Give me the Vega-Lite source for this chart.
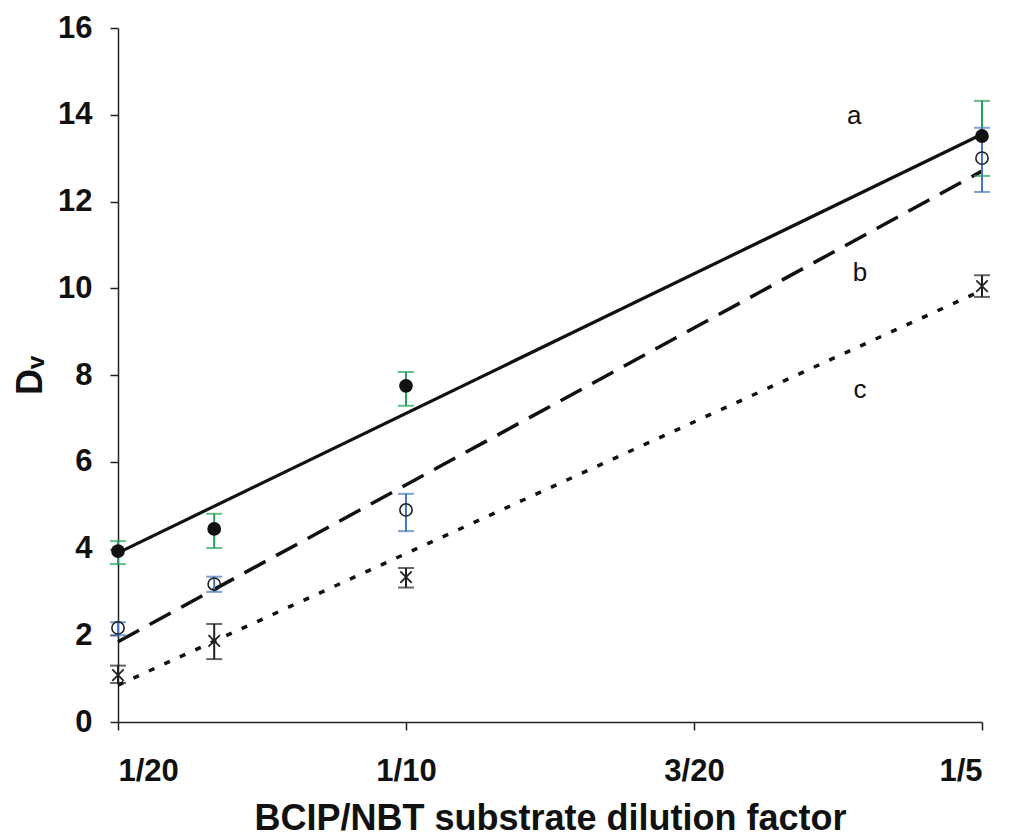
{
  "$schema": "https://vega.github.io/schema/vega-lite/v6.json",
  "width": 864,
  "height": 694,
  "autosize": {"type": "none"},
  "padding": {"left": 118, "top": 28, "right": 29, "bottom": 118},
  "background": "white",
  "config": {"view": {"stroke": null}, "font": "Liberation Sans"},
  "datasets": {
    "pts": [
      {"series": "a", "x": 0.05, "y": 3.94, "lo": 3.64, "hi": 4.17},
      {"series": "a", "x": 0.0667, "y": 4.45, "lo": 4.01, "hi": 4.8},
      {"series": "a", "x": 0.1, "y": 7.75, "lo": 7.29, "hi": 8.07},
      {"series": "a", "x": 0.2, "y": 13.51, "lo": 12.59, "hi": 14.32},
      {"series": "b", "x": 0.05, "y": 2.17, "lo": 2.0, "hi": 2.3},
      {"series": "b", "x": 0.0667, "y": 3.18, "lo": 3.0, "hi": 3.35},
      {"series": "b", "x": 0.1, "y": 4.89, "lo": 4.4, "hi": 5.26},
      {"series": "b", "x": 0.2, "y": 13.0, "lo": 12.22, "hi": 13.7},
      {"series": "c", "x": 0.05, "y": 1.08, "lo": 0.9, "hi": 1.3},
      {"series": "c", "x": 0.0667, "y": 1.87, "lo": 1.45, "hi": 2.26},
      {"series": "c", "x": 0.1, "y": 3.34, "lo": 3.1, "hi": 3.55},
      {"series": "c", "x": 0.2, "y": 10.05, "lo": 9.8, "hi": 10.3}
    ],
    "fits": [
      {"series": "a", "x": 0.05, "y": 3.9},
      {"series": "a", "x": 0.2, "y": 13.55},
      {"series": "b", "x": 0.05, "y": 1.85},
      {"series": "b", "x": 0.2, "y": 12.7},
      {"series": "c", "x": 0.05, "y": 0.85},
      {"series": "c", "x": 0.2, "y": 9.95}
    ],
    "labels": [
      {"series": "a", "x": 0.1778, "y": 13.97},
      {"series": "b", "x": 0.1788, "y": 10.35},
      {"series": "c", "x": 0.1788, "y": 7.65}
    ]
  },
  "layer": [
    {
      "data": {"name": "fits"},
      "transform": [{"filter": "datum.series == 'a'"}],
      "mark": {"type": "line", "color": "#111", "strokeWidth": 3.2},
      "encoding": {
        "x": {"field": "x", "type": "quantitative", "title": "BCIP/NBT substrate dilution factor", "scale": {"domain": [0.05, 0.2], "nice": false, "zero": false},
          "axis": {"values": [0.05, 0.1, 0.15, 0.2], "labelExpr": "datum.value < 0.07 ? '1/20' : datum.value < 0.12 ? '1/10' : datum.value < 0.17 ? '3/20' : '1/5'",
            "grid": false, "domainColor": "#222", "domainWidth": 1.5, "tickColor": "#222", "tickWidth": 1.5, "tickSize": 8,
            "labelFont": "Liberation Sans", "labelFontWeight": "bold", "labelFontSize": 31, "labelColor": "#111", "labelPadding": 26,
            "titleFont": "Liberation Sans", "titleFontWeight": "bold", "titleFontSize": 36, "titleColor": "#111", "titlePadding": 15}},
        "y": {"field": "y", "type": "quantitative", "title": "Dᵥ", "scale": {"domain": [0, 16], "nice": false},
          "axis": {"values": [0, 2, 4, 6, 8, 10, 12, 14, 16], "grid": false, "domainColor": "#222", "domainWidth": 1.5, "tickColor": "#222", "tickWidth": 1.5, "tickSize": 8,
            "labelFont": "Liberation Sans", "labelFontWeight": "bold", "labelFontSize": 31, "labelColor": "#111", "labelPadding": 18,
            "titleFont": "Liberation Sans", "titleFontWeight": "bold", "titleFontSize": 36, "titleColor": "#111", "titlePadding": 8}}
      }
    },
    {
      "data": {"name": "fits"},
      "transform": [{"filter": "datum.series == 'b'"}],
      "mark": {"type": "line", "color": "#111", "strokeWidth": 3.5, "strokeDash": [24, 12]},
      "encoding": {"x": {"field": "x", "type": "quantitative", "title": "BCIP/NBT substrate dilution factor"}, "y": {"field": "y", "type": "quantitative", "title": "Dᵥ"}}
    },
    {
      "data": {"name": "fits"},
      "transform": [{"filter": "datum.series == 'c'"}],
      "mark": {"type": "line", "color": "#111", "strokeWidth": 3.5, "strokeDash": [6, 11]},
      "encoding": {"x": {"field": "x", "type": "quantitative", "title": "BCIP/NBT substrate dilution factor"}, "y": {"field": "y", "type": "quantitative", "title": "Dᵥ"}}
    },
    {
      "data": {"name": "pts"},
      "mark": {"type": "errorbar", "ticks": {"size": 16, "thickness": 2}, "thickness": 2},
      "encoding": {
        "x": {"field": "x", "type": "quantitative", "title": "BCIP/NBT substrate dilution factor"},
        "y": {"field": "lo", "type": "quantitative", "title": "Dᵥ"},
        "y2": {"field": "hi"},
        "color": {"field": "series", "type": "nominal", "scale": {"domain": ["a", "b", "c"], "range": ["#22a05a", "#4477c2", "#222222"]}, "legend": null}
      }
    },
    {
      "data": {"name": "pts"},
      "transform": [{"filter": "datum.series == 'a'"}],
      "mark": {"type": "point", "shape": "circle", "filled": true, "color": "#111", "size": 190, "opacity": 1},
      "encoding": {"x": {"field": "x", "type": "quantitative", "title": "BCIP/NBT substrate dilution factor"}, "y": {"field": "y", "type": "quantitative", "title": "Dᵥ"}}
    },
    {
      "data": {"name": "pts"},
      "transform": [{"filter": "datum.series == 'b'"}],
      "mark": {"type": "point", "shape": "circle", "filled": false, "color": "#222", "size": 150, "strokeWidth": 1.6, "opacity": 1},
      "encoding": {"x": {"field": "x", "type": "quantitative", "title": "BCIP/NBT substrate dilution factor"}, "y": {"field": "y", "type": "quantitative", "title": "Dᵥ"}}
    },
    {
      "data": {"name": "pts"},
      "transform": [{"filter": "datum.series == 'c'"}],
      "mark": {"type": "point", "shape": "M-1,-1L1,1M-1,1L1,-1", "filled": false, "color": "#222", "size": 130, "strokeWidth": 1.8, "opacity": 1},
      "encoding": {"x": {"field": "x", "type": "quantitative", "title": "BCIP/NBT substrate dilution factor"}, "y": {"field": "y", "type": "quantitative", "title": "Dᵥ"}}
    },
    {
      "data": {"name": "labels"},
      "mark": {"type": "text", "font": "Liberation Sans", "fontSize": 26, "color": "#111", "align": "center", "baseline": "middle"},
      "encoding": {"x": {"field": "x", "type": "quantitative", "title": "BCIP/NBT substrate dilution factor"}, "y": {"field": "y", "type": "quantitative", "title": "Dᵥ"}, "text": {"field": "series"}}
    }
  ]
}
